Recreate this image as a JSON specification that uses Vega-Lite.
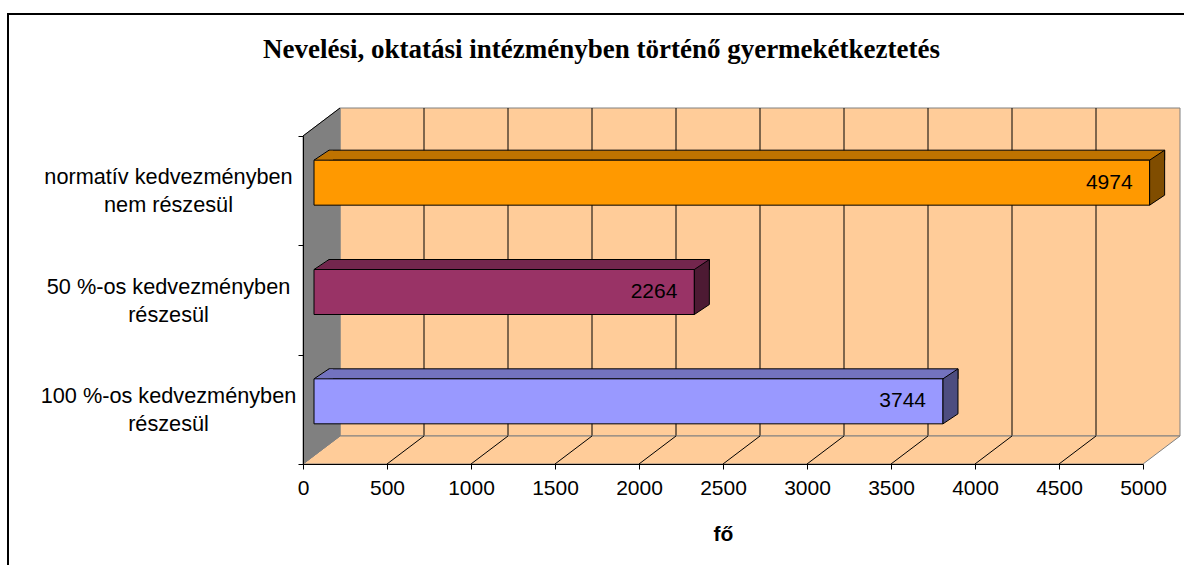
{
  "$schema": "https://vega.github.io/schema/vega-lite/v6.json",
  "width": 1176,
  "height": 551,
  "autosize": {"type": "none"},
  "padding": {"left": 8, "top": 14, "right": 0, "bottom": 0},
  "background": "white",
  "config": {
    "font": "Liberation Sans",
    "view": {"stroke": "black", "strokeWidth": 2, "strokeDash": [1176, 1727, 551], "fill": "white"}
  },
  "title": {
    "text": "Nevelési, oktatási intézményben történő gyermekétkeztetés",
    "font": "Liberation Serif",
    "fontSize": 27,
    "fontWeight": "bold",
    "color": "black",
    "anchor": "middle",
    "frame": "group",
    "baseline": "alphabetic",
    "offset": -81,
    "dx": 5.5
  },
  "datasets": {
    "bars": [
      {"kategoria": "normatív kedvezményben nem részesül", "ertek": 4974},
      {"kategoria": "50 %-os kedvezményben részesül", "ertek": 2264},
      {"kategoria": "100 %-os kedvezményben részesül", "ertek": 3744}
    ],
    "grid": [{"v": 500}, {"v": 1000}, {"v": 1500}, {"v": 2000}, {"v": 2500}, {"v": 3000}, {"v": 3500}, {"v": 4000}, {"v": 4500}],
    "frame": [{"from": 0, "to": 5000}]
  },
  "layer": [
    {
      "layer": [
        {
          "data": {"name": "frame"},
          "mark": {"type": "rect", "fill": "#FFCC99", "stroke": "#808080", "strokeWidth": 1, "xOffset": 37, "x2Offset": 37, "yOffset": -28, "y2Offset": -28},
          "encoding": {
            "x": {"field": "from", "type": "quantitative",
              "scale": {"domain": [0, 5000], "range": [295, 1135], "nice": false},
              "axis": {
                "values": [0, 500, 1000, 1500, 2000, 2500, 3000, 3500, 4000, 4500, 5000],
                "format": "d",
                "offset": -101, "domainColor": "black", "domainWidth": 1, "tickColor": "black", "tickWidth": 1, "tickSize": 5,
                "labelFont": "Liberation Sans", "labelFontSize": 21, "labelColor": "black", "labelPadding": 8,
                "labelFlush": false, "labelOverlap": false, "grid": false,
                "title": "fő", "titleFont": "Liberation Sans", "titleFontSize": 21, "titleFontWeight": "bold", "titleColor": "black", "titlePadding": 25,
                "zindex": 1
              }},
            "x2": {"field": "to"},
            "y": {"datum": 0, "type": "quantitative", "scale": {"domain": [0, 3], "range": [450, 122], "nice": false, "zero": false}, "axis": null},
            "y2": {"datum": 3}
          }
        },
        {
          "data": {"name": "grid"},
          "mark": {"type": "rule", "color": "black", "strokeWidth": 1, "xOffset": 37, "yOffset": -28, "y2Offset": -28},
          "encoding": {
            "x": {"field": "v", "type": "quantitative"},
            "y": {"datum": 0, "type": "quantitative"},
            "y2": {"datum": 3}
          }
        },
        {
          "data": {"name": "frame"},
          "mark": {"type": "point", "shape": "M0,0 L37,-28 L877,-28 L840,0 Z", "size": 4, "filled": true, "fill": "#FFCC99", "stroke": "#808080", "strokeWidth": 1, "opacity": 1},
          "encoding": {
            "x": {"field": "from", "type": "quantitative"},
            "y": {"datum": 0, "type": "quantitative"}
          }
        },
        {
          "data": {"name": "grid"},
          "mark": {"type": "rule", "color": "black", "strokeWidth": 1, "x2Offset": 37, "y2Offset": -28},
          "encoding": {
            "x": {"field": "v", "type": "quantitative"},
            "x2": {"field": "v"},
            "y": {"datum": 0, "type": "quantitative"},
            "y2": {"datum": 0}
          }
        },
        {
          "data": {"name": "frame"},
          "mark": {"type": "point", "shape": "M0,0 L0,-328 L37,-356 L37,-28 Z", "size": 4, "filled": true, "fill": "#808080", "stroke": "#808080", "strokeWidth": 1, "opacity": 1},
          "encoding": {
            "x": {"field": "from", "type": "quantitative"},
            "y": {"datum": 0, "type": "quantitative"}
          }
        },
        {
          "data": {"name": "frame"},
          "mark": {"type": "point", "shape": "M0,-328 L37,-356", "size": 4, "filled": false, "stroke": "black", "strokeWidth": 1, "opacity": 1},
          "encoding": {
            "x": {"field": "from", "type": "quantitative"},
            "y": {"datum": 0, "type": "quantitative"}
          }
        }
      ]
    },
    {
      "data": {"name": "bars"},
      "layer": [
        {
          "mark": {"type": "bar", "height": 10, "yOffset": -35.5, "xOffset": 26, "x2Offset": 26, "stroke": "black", "strokeWidth": 1},
          "encoding": {
            "x": {"field": "ertek", "type": "quantitative"},
            "x2": {"datum": 0},
            "y": {"field": "kategoria", "type": "nominal",
              "scale": {"domain": ["normatív kedvezményben nem részesül", "50 %-os kedvezményben részesül", "100 %-os kedvezményben részesül"], "range": [122, 450], "paddingInner": 0, "paddingOuter": 0},
              "axis": {
                "orient": "left", "offset": -295, "tickBand": "extent", "tickSize": 5, "tickColor": "black", "tickWidth": 1,
                "domainColor": "black", "domainWidth": 1,
                "labelAlign": "center", "labelBaseline": "middle", "labelPadding": 130, "labelOffset": -14,
                "labelFont": "Liberation Sans", "labelFontSize": 21.7, "labelColor": "black", "labelLineHeight": 28,
                "labelExpr": "isString(datum.value) ? split(replace(datum.value, 'ben ', 'ben|'), '|') : ''",
                "labelLimit": 0, "labelOverlap": false, "grid": false, "title": null, "zindex": 1
              }},
            "fill": {"condition": [
              {"test": "datum.kategoria === 'normatív kedvezményben nem részesül'", "value": "#BF7300"},
              {"test": "datum.kategoria === '50 %-os kedvezményben részesül'", "value": "#73264D"}
            ], "value": "#7373BF"}
          }
        },
        {
          "mark": {"type": "point", "shape": "M0,-22.5 L15,-32 L19,-32 L19,-22.5 Z", "size": 4, "filled": true, "strokeWidth": 0, "opacity": 1, "xOffset": 11, "yOffset": -8},
          "encoding": {
            "x": {"datum": 0, "type": "quantitative"},
            "y": {"field": "kategoria", "type": "nominal"},
            "fill": {"condition": [
              {"test": "datum.kategoria === 'normatív kedvezményben nem részesül'", "value": "#BF7300"},
              {"test": "datum.kategoria === '50 %-os kedvezményben részesül'", "value": "#73264D"}
            ], "value": "#7373BF"}
          }
        },
        {
          "mark": {"type": "point", "shape": "M0,-22.5 L15,-32.5", "size": 4, "filled": false, "stroke": "black", "strokeWidth": 1, "opacity": 1, "xOffset": 11, "yOffset": -8},
          "encoding": {
            "x": {"datum": 0, "type": "quantitative"},
            "y": {"field": "kategoria", "type": "nominal"}
          }
        },
        {
          "mark": {"type": "bar", "height": 45, "yOffset": -8, "xOffset": 11, "x2Offset": 11, "stroke": "black", "strokeWidth": 1},
          "encoding": {
            "x": {"field": "ertek", "type": "quantitative"},
            "x2": {"datum": 0},
            "y": {"field": "kategoria", "type": "nominal"},
            "fill": {"condition": [
              {"test": "datum.kategoria === 'normatív kedvezményben nem részesül'", "value": "#FF9900"},
              {"test": "datum.kategoria === '50 %-os kedvezményben részesül'", "value": "#993366"}
            ], "value": "#9999FF"}
          }
        },
        {
          "mark": {"type": "point", "shape": "M0,-22.5 L15,-32.5 L15,12.5 L0,22.5 Z", "size": 4, "filled": true, "stroke": "black", "strokeWidth": 1, "opacity": 1, "xOffset": 11, "yOffset": -8},
          "encoding": {
            "x": {"field": "ertek", "type": "quantitative"},
            "y": {"field": "kategoria", "type": "nominal"},
            "fill": {"condition": [
              {"test": "datum.kategoria === 'normatív kedvezményben nem részesül'", "value": "#804D00"},
              {"test": "datum.kategoria === '50 %-os kedvezményben részesül'", "value": "#4D1A33"}
            ], "value": "#4D4D80"}
          }
        },
        {
          "mark": {"type": "text", "align": "right", "baseline": "middle", "font": "Liberation Sans", "fontSize": 21, "color": "black", "xOffset": -6, "yOffset": -8},
          "encoding": {
            "x": {"field": "ertek", "type": "quantitative"},
            "y": {"field": "kategoria", "type": "nominal"},
            "text": {"field": "ertek", "type": "quantitative", "format": "d"}
          }
        }
      ]
    }
  ],
  "resolve": {"scale": {"y": "independent"}, "axis": {"y": "independent"}}
}
